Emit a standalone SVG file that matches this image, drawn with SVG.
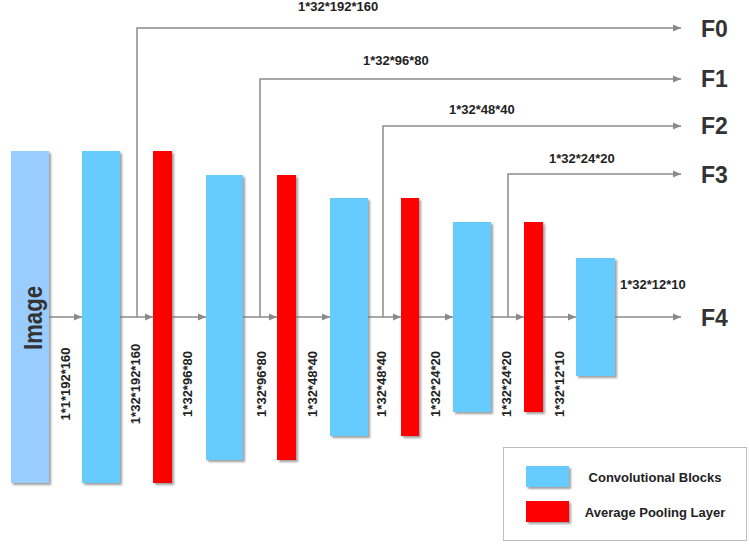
<svg xmlns="http://www.w3.org/2000/svg" width="750" height="545" viewBox="0 0 750 545">
<style>
  .lbl { font-family: "Liberation Sans", Arial, sans-serif; font-weight: bold; font-size: 13px; fill: #222; }
  .vl { font-family: "Liberation Sans", Arial, sans-serif; font-weight: bold; font-size: 13px; fill: #222; text-anchor: middle; }
  .out { font-family: "Liberation Sans", Arial, sans-serif; font-weight: bold; font-size: 23px; fill: #333; }
  .leg { font-family: "Liberation Sans", Arial, sans-serif; font-weight: bold; font-size: 13px; fill: #222; text-anchor: middle; }
  .conv { fill: #66CCFF; filter: url(#sh); }
  .pool { fill: #FF0000; filter: url(#sh); }
  .img { fill: #99CCFF; filter: url(#sh); }
  .ln { stroke: #8a8a8a; stroke-width: 1.5; fill: none; }
  .arr { marker-end: url(#ah); }
</style>
<defs>
  <filter id="sh" x="-20%" y="-5%" width="150%" height="115%">
    <feDropShadow dx="2" dy="2" stdDeviation="0.8" flood-color="#777" flood-opacity="0.7"/>
  </filter>
  <marker id="ah" viewBox="0 0 8 8" refX="8" refY="4" markerWidth="8" markerHeight="8" markerUnits="userSpaceOnUse" orient="auto">
    <path d="M0,0.5 L8,4 L0,7.5 Z" fill="#8a8a8a"/>
  </marker>
</defs>
<rect width="750" height="545" fill="#ffffff"/>

<g id="connectors">
  <line class="ln arr" x1="49" y1="317" x2="82" y2="317"/>
  <line class="ln arr" x1="120" y1="317" x2="153" y2="317"/>
  <line class="ln arr" x1="172" y1="317" x2="206" y2="317"/>
  <line class="ln arr" x1="243" y1="317" x2="277" y2="317"/>
  <line class="ln arr" x1="296" y1="317" x2="330" y2="317"/>
  <line class="ln arr" x1="368" y1="317" x2="401" y2="317"/>
  <line class="ln arr" x1="419" y1="317" x2="453" y2="317"/>
  <line class="ln arr" x1="491" y1="317" x2="524" y2="317"/>
  <line class="ln arr" x1="543" y1="317" x2="576" y2="317"/>
  <line class="ln arr" x1="615" y1="317" x2="681" y2="317"/>
  <polyline class="ln arr" points="137,317 137,28 681,28"/>
  <polyline class="ln arr" points="260,317 260,79 681,79"/>
  <polyline class="ln arr" points="383,317 383,126 681,126"/>
  <polyline class="ln arr" points="508,317 508,174 681,174"/>
</g>

<g id="image">
  <rect class="img" x="11" y="151" width="38" height="332"/>
  <text transform="translate(42,350) rotate(-90)" font-family="Liberation Sans, Arial, sans-serif" font-weight="bold" font-size="25" fill="#333" textLength="64" lengthAdjust="spacingAndGlyphs">Image</text>
</g>
<g id="conv1"><rect class="conv" x="82" y="151" width="38" height="332"/></g>
<g id="pool1"><rect class="pool" x="153" y="151" width="19" height="332"/></g>
<g id="conv2"><rect class="conv" x="206" y="175" width="37" height="285"/></g>
<g id="pool2"><rect class="pool" x="277" y="175" width="19" height="285"/></g>
<g id="conv3"><rect class="conv" x="330" y="198" width="38" height="238"/></g>
<g id="pool3"><rect class="pool" x="401" y="198" width="18" height="238"/></g>
<g id="conv4"><rect class="conv" x="453" y="222" width="38" height="190"/></g>
<g id="pool4"><rect class="pool" x="524" y="222" width="19" height="190"/></g>
<g id="conv5"><rect class="conv" x="576" y="258" width="39" height="118"/></g>

<g id="outputs">
  <text class="out" x="701" y="36.5">F0</text>
  <text class="out" x="701" y="87">F1</text>
  <text class="out" x="701" y="134">F2</text>
  <text class="out" x="701" y="182.5">F3</text>
  <text class="out" x="701" y="326">F4</text>
</g>

<g id="dim-labels">
  <text class="lbl" x="298" y="11">1*32*192*160</text>
  <text class="lbl" x="363" y="65">1*32*96*80</text>
  <text class="lbl" x="449" y="114">1*32*48*40</text>
  <text class="lbl" x="549" y="163">1*32*24*20</text>
  <text class="lbl" x="620" y="289">1*32*12*10</text>

  <text class="vl" transform="translate(69.5,384) rotate(-90)">1*1*192*160</text>
  <text class="vl" transform="translate(139.5,384) rotate(-90)">1*32*192*160</text>
  <text class="vl" transform="translate(192,384) rotate(-90)">1*32*96*80</text>
  <text class="vl" transform="translate(266,384) rotate(-90)">1*32*96*80</text>
  <text class="vl" transform="translate(317,384) rotate(-90)">1*32*48*40</text>
  <text class="vl" transform="translate(386,384) rotate(-90)">1*32*48*40</text>
  <text class="vl" transform="translate(440,384) rotate(-90)">1*32*24*20</text>
  <text class="vl" transform="translate(510.5,384) rotate(-90)">1*32*24*20</text>
  <text class="vl" transform="translate(563.5,384) rotate(-90)">1*32*12*10</text>
</g>

<g id="legend">
  <rect x="503.5" y="447.5" width="243" height="93" fill="#ffffff" stroke="#bdbdbd" stroke-width="1"/>
  <rect class="conv" x="526" y="466" width="43" height="21"/>
  <rect class="pool" x="526" y="501" width="43" height="21"/>
  <text class="leg" x="655" y="481.5">Convolutional Blocks</text>
  <text class="leg" x="655" y="516.5">Average Pooling Layer</text>
</g>
</svg>
